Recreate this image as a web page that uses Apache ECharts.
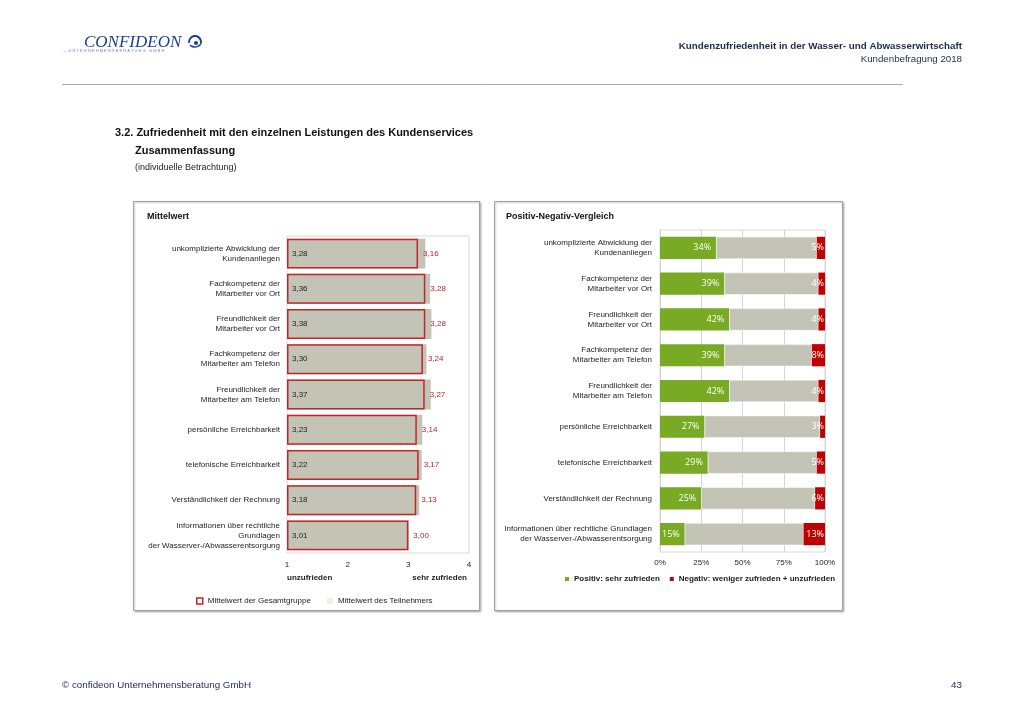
<!DOCTYPE html>
<html><head><meta charset="utf-8">
<script src="https://cdn.jsdelivr.net/npm/echarts@6/dist/echarts.min.js"></script>
<style>html,body{margin:0;padding:0;background:#fff;}#c{width:1024px;height:719px;}</style>
</head><body><div id="c"></div>
<script>
const categoriesLeft = [
  "unkomplizierte Abwicklung der\nKundenanliegen",
  "Fachkompetenz der\nMitarbeiter vor Ort",
  "Freundlichkeit der\nMitarbeiter vor Ort",
  "Fachkompetenz der\nMitarbeiter am Telefon",
  "Freundlichkeit der\nMitarbeiter am Telefon",
  "persönliche Erreichbarkeit",
  "telefonische Erreichbarkeit",
  "Verständlichkeit der Rechnung",
  "Informationen über rechtliche\nGrundlagen\nder Wasserver-/Abwasserentsorgung"
];
const categoriesRight = [
  "unkomplizierte Abwicklung der\nKundenanliegen",
  "Fachkompetenz der\nMitarbeiter vor Ort",
  "Freundlichkeit der\nMitarbeiter vor Ort",
  "Fachkompetenz der\nMitarbeiter am Telefon",
  "Freundlichkeit der\nMitarbeiter am Telefon",
  "persönliche Erreichbarkeit",
  "telefonische Erreichbarkeit",
  "Verständlichkeit der Rechnung",
  "Informationen über rechtliche Grundlagen\nder Wasserver-/Abwasserentsorgung"
];
const participantMean = [3.28, 3.36, 3.38, 3.30, 3.37, 3.23, 3.22, 3.18, 3.01];
const groupMean       = [3.16, 3.28, 3.28, 3.24, 3.27, 3.14, 3.17, 3.13, 3.00];
const positiveShare   = [34, 39, 42, 39, 42, 27, 29, 25, 15];
const negativeShare   = [5, 4, 4, 8, 4, 3, 5, 6, 13];
const neutralShare    = positiveShare.map((p, i) => 100 - p - negativeShare[i]);
const meanTickLabels  = ["1", "2", "3", "4"];
const shareTickSuffix = "%";

const F = '"Liberation Sans", Arial, sans-serif';
const comma = v => v.toFixed(2).replace('.', ',');

function txt(x, y, text, font, fill, align, va) {
  return { type: 'text', x: x, y: y, silent: true,
    style: { text: text, font: font, fill: fill || '#222',
      align: align || 'left', textAlign: align || 'left',
      verticalAlign: va || 'middle', textVerticalAlign: va || 'middle' } };
}

const chart = echarts.init(document.getElementById('c'));
chart.setOption({
  animation: false,
  backgroundColor: '#fff',
  textStyle: { fontFamily: F },
  grid: [
    { left: 287, right: 1024 - 469, top: 236, bottom: 719 - 553, show: true, borderColor: '#d9d9d9', borderWidth: 1 },
    { left: 660, right: 1024 - 825, top: 230, bottom: 719 - 552, show: true, borderColor: '#d9d9d9', borderWidth: 1 }
  ],
  xAxis: [
    { type: 'value', gridIndex: 0, min: 1, max: 4, interval: 1, startValue: 1,
      axisLine: { show: false }, axisTick: { show: false }, splitLine: { show: false },
      axisLabel: { fontSize: 8, color: '#222', margin: 8, fontFamily: F,
        formatter: v => meanTickLabels[Math.round(v) - 1] } },
    { type: 'value', gridIndex: 1, min: 0, max: 100, interval: 25,
      axisLine: { show: false }, axisTick: { show: false },
      splitLine: { show: true, lineStyle: { color: '#d4d4d4', width: 1 } },
      axisLabel: { fontSize: 8, color: '#222', margin: 7, fontFamily: F, formatter: '{value}' + shareTickSuffix } }
  ],
  yAxis: [
    { type: 'category', gridIndex: 0, data: categoriesLeft, inverse: true,
      axisLine: { show: false }, axisTick: { show: false },
      axisLabel: { fontSize: 8, color: '#222', margin: 7, lineHeight: 10, fontFamily: F, align: 'right' } },
    { type: 'category', gridIndex: 1, data: categoriesRight, inverse: true,
      axisLine: { show: false }, axisTick: { show: false },
      axisLabel: { fontSize: 8, color: '#222', margin: 8, lineHeight: 10, fontFamily: F, align: 'right' } }
  ],
  legend: [
    { left: 191, top: 592, itemWidth: 6, itemHeight: 6, itemGap: 16, selectedMode: false,
      textStyle: { fontSize: 8, color: '#222', fontFamily: F },
      data: [
        { name: 'Mittelwert der Gesamtgruppe', icon: 'rect', itemStyle: { color: '#fff', borderColor: '#c0272d', borderWidth: 1.5 } },
        { name: 'Mittelwert des Teilnehmers', icon: 'rect', itemStyle: { color: '#efefea', borderWidth: 0 } }
      ] },
    { left: 560, top: 570, itemWidth: 4, itemHeight: 4, itemGap: 10, selectedMode: false,
      textStyle: { fontSize: 8, color: '#222', fontWeight: 'bold', fontFamily: F },
      data: [
        { name: 'Positiv: sehr zufrieden', icon: 'rect' },
        { name: 'Negativ: weniger zufrieden + unzufrieden', icon: 'rect' }
      ] }
  ],
  series: [
    { name: 'Mittelwert des Teilnehmers', type: 'bar', xAxisIndex: 0, yAxisIndex: 0,
      data: participantMean, barCategoryGap: '15%', barGap: '-100%',
      itemStyle: { color: '#c4c4b6' },
      label: { show: true, position: 'insideLeft', distance: 5, fontSize: 8, color: '#222', fontFamily: F,
        formatter: p => comma(p.value) } },
    { name: 'Mittelwert der Gesamtgruppe', type: 'bar', xAxisIndex: 0, yAxisIndex: 0,
      data: groupMean, barCategoryGap: '15%', barGap: '-100%', z: 3,
      itemStyle: { color: 'rgba(0,0,0,0)', borderColor: '#c0272d', borderWidth: 1.5 },
      label: { show: true, position: 'right', distance: 5, fontSize: 8, color: '#b3272d', fontFamily: F,
        formatter: p => comma(p.value) } },
    { name: 'Positiv: sehr zufrieden', type: 'bar', xAxisIndex: 1, yAxisIndex: 1, stack: 'pn',
      data: positiveShare, barCategoryGap: '38%',
      itemStyle: { color: '#79aa23' },
      label: { show: true, position: 'insideRight', distance: 5, fontSize: 9, color: '#fff',
        fontFamily: '"Open Sans", sans-serif', formatter: '{c}%' } },
    { name: 'neutral', type: 'bar', xAxisIndex: 1, yAxisIndex: 1, stack: 'pn',
      data: neutralShare, barCategoryGap: '38%',
      itemStyle: { color: '#c4c4b6', borderColor: '#fff', borderWidth: 0.5 } },
    { name: 'Negativ: weniger zufrieden + unzufrieden', type: 'bar', xAxisIndex: 1, yAxisIndex: 1, stack: 'pn',
      data: negativeShare, barCategoryGap: '38%',
      itemStyle: { color: '#c00000' },
      label: { show: true, position: 'insideRight', distance: 1, fontSize: 9, color: '#fff',
        fontFamily: '"Open Sans", sans-serif', formatter: '{c}%' } }
  ],
  graphic: [
    // logo
    txt(84, 43, 'CONFIDEON', 'italic 17px "Liberation Serif", serif', '#1d3f8f'),
    { type: 'arc', silent: true, shape: { cx: 195, cy: 42, r: 6, startAngle: Math.PI * 0.95, endAngle: Math.PI * 2.05 },
      style: { stroke: '#1d3f8f', lineWidth: 2, fill: 'none' } },
    { type: 'circle', silent: true, shape: { cx: 196, cy: 43, r: 2 }, style: { fill: '#1d3f8f' } },
    { type: 'arc', silent: true, shape: { cx: 195, cy: 40, r: 7, startAngle: Math.PI * 0.15, endAngle: Math.PI * 0.75 },
      style: { stroke: '#1d3f8f', lineWidth: 1.5, fill: 'none' } },
    txt(63, 51, '.....U N T E R N E H M E N S B E R A T U N G   G M B H', '4px "Liberation Sans", sans-serif', '#6b86c0'),
    // header right
    txt(962, 46, 'Kundenzufriedenheit in der Wasser- und Abwasserwirtschaft', 'bold 9.8px ' + F, '#1e2b48', 'right'),
    txt(962, 59, 'Kundenbefragung 2018', '9.7px ' + F, '#1e2b48', 'right'),
    { type: 'line', silent: true, shape: { x1: 62, y1: 84.5, x2: 903, y2: 84.5 }, style: { stroke: '#aaaaaa', lineWidth: 1 } },
    // titles
    txt(115, 133, '3.2. Zufriedenheit mit den einzelnen Leistungen des Kundenservices', 'bold 11px ' + F, '#111'),
    txt(135, 151, 'Zusammenfassung', 'bold 11px ' + F, '#111'),
    txt(135, 168, '(individuelle Betrachtung)', '9px ' + F, '#222'),
    // panels
    { type: 'rect', silent: true, z: -10, shape: { x: 133.5, y: 201.5, width: 346, height: 409 },
      style: { fill: '#fff', stroke: '#a0a0a0', lineWidth: 1, shadowBlur: 2, shadowOffsetX: 1, shadowOffsetY: 1, shadowColor: 'rgba(0,0,0,0.25)' } },
    { type: 'rect', silent: true, z: -10, shape: { x: 494.5, y: 201.5, width: 348, height: 409 },
      style: { fill: '#fff', stroke: '#a0a0a0', lineWidth: 1, shadowBlur: 2, shadowOffsetX: 1, shadowOffsetY: 1, shadowColor: 'rgba(0,0,0,0.25)' } },
    txt(147, 217, 'Mittelwert', 'bold 9px ' + F, '#111'),
    txt(506, 217, 'Positiv-Negativ-Vergleich', 'bold 9px ' + F, '#111'),
    txt(287, 578, 'unzufrieden', 'bold 8px ' + F, '#222'),
    txt(467, 578, 'sehr zufrieden', 'bold 8px ' + F, '#222', 'right'),
    // footer
    txt(62, 685, '© confideon Unternehmensberatung GmbH', '9.8px ' + F, '#1e2b48'),
    txt(962, 685, '43', '9.8px ' + F, '#1e2b48', 'right')
  ]
});
</script>
</body></html>
